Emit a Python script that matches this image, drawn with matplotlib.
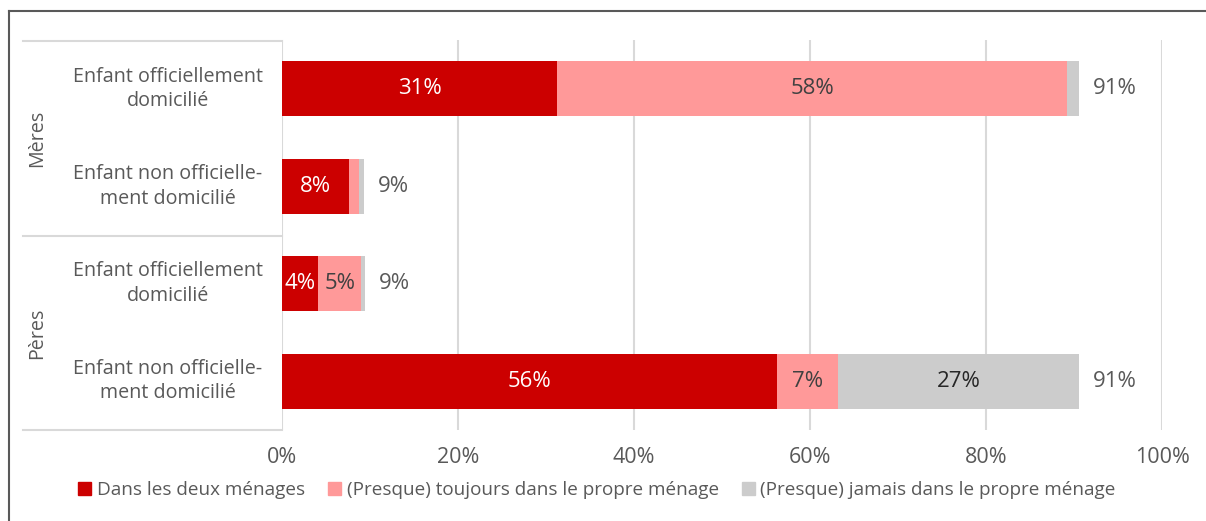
import matplotlib.pyplot as plt
from matplotlib.lines import Line2D
from matplotlib.patches import Patch

plt.rcParams['font.family'] = ['Open Sans', 'DejaVu Sans']

groups = ["Mères", "Pères"]
categories = ["Enfant officiellement\ndomicilié", "Enfant non officielle-\nment domicilié",
              "Enfant officiellement\ndomicilié", "Enfant non officielle-\nment domicilié"]
series = ["Dans les deux ménages", "(Presque) toujours dans le propre ménage",
          "(Presque) jamais dans le propre ménage"]
deux = [31.3, 7.6, 4.1, 56.3]
toujours = [57.9, 1.1, 4.9, 6.9]
jamais = [1.4, 0.6, 0.4, 27.4]
xticks = [0, 20, 40, 60, 80, 100]

colors = ["#CC0000", "#FF9999", "#CCCCCC"]
label_colors = ["white", "#404040", "#262626"]
text_gray = "#595959"
line_gray = "#D9D9D9"

W, H = 1206, 521
fig = plt.figure(figsize=(W / 100, H / 100), dpi=100)

def fx(px):
    return px / W

def fy(py):
    return 1 - py / H

ax = fig.add_axes([fx(282), fy(430), fx(1162) - fx(282), fy(40) - fy(430)])
ax.set_xlim(0, 100)
ax.set_ylim(4, 0)

ypos = [0.5, 1.5, 2.5, 3.5]
left = [0, 0, 0, 0]
for vals, c, lc in zip([deux, toujours, jamais], colors, label_colors):
    ax.barh(ypos, vals, left=left, height=0.565, color=c, zorder=3)
    for y, v, l in zip(ypos, vals, left):
        if v >= 3:
            ax.text(l + v / 2, y, f"{v:.0f}%", ha="center", va="center",
                    color=lc, fontsize=16, zorder=4)
    left = [a + b for a, b in zip(left, vals)]

for y, t in zip(ypos, left):
    ax.annotate(f"{t:.0f}%", (t, y), xytext=(14, 0), textcoords="offset pixels",
                ha="left", va="center", color=text_gray, fontsize=16)

for t in xticks:
    ax.axvline(t, color=line_gray, lw=1.5, zorder=1)

ax.set_xticks(xticks)
ax.set_xticklabels([f"{t}%" for t in xticks])
ax.tick_params(axis="x", length=0, pad=12, labelsize=15.5, labelcolor=text_gray)
ax.set_yticks([])
for s in ax.spines.values():
    s.set_visible(False)

# category labels and group table
for y, c in zip(ypos, categories):
    fig.text(fx(168), fy(40 + y * 97.5), c, ha="center", va="center",
             color=text_gray, fontsize=14.2, linespacing=1.3)
for g, py in zip(groups, [138, 333]):
    fig.text(fx(37), fy(py), g, ha="center", va="center", rotation=90,
             color=text_gray, fontsize=14.2)
for py in [40.5, 236, 430]:
    fig.add_artist(Line2D([fx(23), fx(282)], [fy(py), fy(py)], color=line_gray, lw=1.5))

# outer frame (top and left)
fig.add_artist(Line2D([fx(8.5), 1], [fy(10.5), fy(10.5)], color=text_gray, lw=1.5))
fig.add_artist(Line2D([fx(8.5), fx(8.5)], [fy(10.5), 0], color=text_gray, lw=1.5))

handles = [Patch(color=c) for c in colors]
fig.legend(handles, series, loc="center", bbox_to_anchor=(fx(597), fy(490)), ncol=3,
           frameon=False, fontsize=13.6, labelcolor=text_gray, handlelength=0.7,
           handleheight=0.7, handletextpad=0.3, columnspacing=1.2)

fig.savefig("out.png", dpi=100)
